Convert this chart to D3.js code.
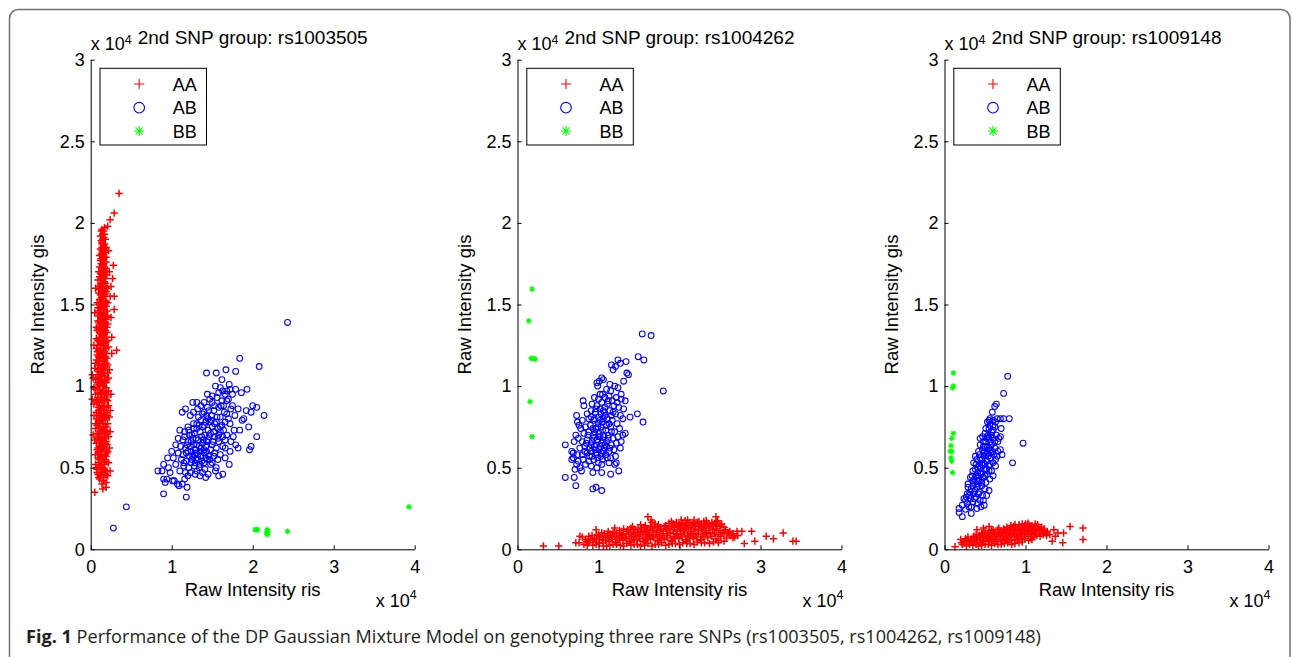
<!DOCTYPE html>
<html>
<head>
<meta charset="utf-8">
<script src="https://cdn.jsdelivr.net/npm/d3@7"></script>
<style>
  body { margin: 0; background: #fff; }
  svg { display: block; }
</style>
</head>
<body>
<script>
// values are in units of 10^4 (x = ris, y = gis)
const snpIds = ['rs1003505', 'rs1004262', 'rs1009148'];
const genotypes = ['AA', 'AB', 'BB'];
const yTicks = [0, 0.5, 1, 1.5, 2, 2.5, 3];
const xTicks = [0, 1, 2, 3, 4];

// --- rs1003505 ---
const p1AA = [
  [0.05,0.35],[0.14,0.40],[0.19,0.38],[0.11,0.43],[0.16,0.44],[0.09,0.46],[0.13,0.47],[0.20,0.48],[0.07,0.50],[0.12,0.51],
  [0.17,0.52],[0.22,0.53],[0.10,0.55],[0.15,0.56],[0.19,0.57],[0.06,0.58],[0.13,0.60],[0.21,0.60],[0.09,0.62],[0.16,0.63],
  [0.11,0.65],[0.19,0.66],[0.05,0.67],[0.14,0.68],[0.22,0.69],[0.08,0.71],[0.17,0.72],[0.12,0.74],[0.20,0.75],[0.06,0.77],
  [0.15,0.77],[0.10,0.79],[0.18,0.80],[0.23,0.81],[0.13,0.83],[0.07,0.84],[0.16,0.85],[0.20,0.87],[0.11,0.88],[0.04,0.89],
  [0.14,0.90],[0.19,0.92],[0.09,0.93],[0.17,0.95],[0.12,0.96],[0.22,0.97],[0.06,0.98],[0.15,1.00],[0.10,1.01],[0.19,1.02],
  [0.13,1.04],[0.03,1.05],[0.17,1.06],[0.08,1.07],[0.21,1.08],[0.14,1.10],[0.11,1.11],[0.18,1.13],[0.06,1.14],[0.15,1.15],
  [0.20,1.17],[0.10,1.18],[0.13,1.20],[0.17,1.21],[0.07,1.23],[0.22,1.24],[0.12,1.25],[0.16,1.27],[0.09,1.28],[0.19,1.30],
  [0.14,1.31],[0.11,1.33],[0.18,1.34],[0.07,1.36],[0.15,1.37],[0.21,1.38],[0.12,1.40],[0.17,1.42],[0.09,1.43],[0.14,1.45],
  [0.20,1.46],[0.11,1.48],[0.16,1.49],[0.08,1.51],[0.19,1.52],[0.13,1.54],[0.17,1.56],[0.10,1.57],[0.15,1.59],[0.21,1.60],
  [0.12,1.62],[0.18,1.63],[0.09,1.65],[0.15,1.66],[0.20,1.68],[0.13,1.70],[0.17,1.71],[0.11,1.73],[0.16,1.75],[0.19,1.76],
  [0.13,1.78],[0.15,1.80],[0.18,1.82],[0.12,1.84],[0.16,1.86],[0.14,1.88],[0.18,1.90],[0.15,1.93],[0.13,1.95],[0.17,1.97],
  [0.12,0.45],[0.18,0.46],[0.08,0.49],[0.15,0.50],[0.11,0.53],[0.19,0.54],[0.14,0.57],[0.09,0.59],[0.17,0.61],[0.12,0.63],
  [0.20,0.64],[0.07,0.65],[0.15,0.67],[0.10,0.69],[0.18,0.70],[0.13,0.72],[0.06,0.74],[0.16,0.75],[0.21,0.77],[0.11,0.78],
  [0.14,0.81],[0.08,0.82],[0.19,0.84],[0.12,0.86],[0.17,0.88],[0.09,0.90],[0.21,0.91],[0.14,0.93],[0.06,0.95],[0.18,0.96],
  [0.11,0.98],[0.16,1.00],[0.08,1.02],[0.20,1.04],[0.12,1.06],[0.16,1.08],[0.09,1.10],[0.13,1.12],[0.19,1.14],[0.07,1.16],
  [0.16,1.18],[0.12,1.22],[0.19,1.23],[0.09,1.25],[0.15,1.26],[0.21,1.28],[0.11,1.30],[0.17,1.32],[0.08,1.34],[0.13,1.35],
  [0.20,1.36],[0.10,1.39],[0.15,1.41],[0.19,1.43],[0.12,1.44],[0.17,1.47],[0.09,1.48],[0.14,1.50],[0.21,1.51],[0.11,1.53],
  [0.16,1.55],[0.19,1.58],[0.13,1.60],[0.10,1.61],[0.17,1.64],[0.14,1.67],[0.12,1.69],[0.19,1.72],[0.15,1.74],[0.12,1.77],
  [0.17,1.79],[0.14,1.83],[0.19,1.85],[0.13,1.89],[0.16,1.91],[0.14,1.96],
  [0.16,0.42],[0.10,0.44],[0.21,0.45],[0.14,0.48],[0.06,0.52],[0.17,0.55],[0.12,0.58],[0.20,0.59],[0.08,0.61],[0.15,0.62],
  [0.18,0.65],[0.12,0.67],[0.09,0.68],[0.20,0.71],[0.14,0.73],[0.10,0.75],[0.18,0.77],[0.13,0.79],[0.07,0.80],[0.21,0.82],
  [0.16,0.83],[0.10,0.85],[0.14,0.87],[0.22,0.88],[0.07,0.91],[0.17,0.91],[0.12,0.92],[0.20,0.94],[0.09,0.96],[0.15,0.97],
  [0.04,0.99],[0.19,0.99],[0.12,1.02],[0.17,1.03],[0.06,1.04],[0.22,1.05],[0.14,1.07],[0.10,1.09],[0.18,1.10],[0.05,1.11],
  [0.15,1.12],[0.21,1.13],[0.11,1.15],[0.17,1.16],[0.08,1.19],[0.14,1.19],[0.19,1.20],[0.10,1.22],[0.16,1.23],[0.13,1.26],
  [0.19,1.27],[0.07,1.29],[0.15,1.29],[0.12,1.32],[0.20,1.33],[0.09,1.35],[0.16,1.35],[0.13,1.38],[0.18,1.39],[0.09,1.40],
  [0.14,1.42],[0.21,1.43],[0.11,1.45],[0.17,1.45],[0.13,1.47],[0.19,1.49],[0.10,1.50],[0.15,1.52],[0.12,1.56],[0.18,1.57],
  [0.14,1.58],[0.11,1.59],[0.19,1.61],[0.15,1.63],[0.12,1.65],[0.18,1.66],[0.14,1.69],[0.10,1.70],[0.17,1.73],[0.13,1.75],
  [0.15,1.77],[0.19,1.79],[0.11,1.80],[0.16,1.81],[0.14,1.85],[0.17,1.87],[0.15,1.90],[0.17,1.93],[0.12,1.92],
  [0.08,0.47],[0.17,0.49],[0.13,0.53],[0.09,0.56],[0.18,0.58],[0.11,0.60],[0.14,0.64],[0.17,0.68],[0.11,0.71],[0.19,0.73],
  [0.08,0.76],[0.15,0.79],[0.19,0.81],[0.11,0.82],[0.16,0.87],[0.10,0.87],[0.13,0.95],[0.19,0.97],[0.08,0.99],[0.14,1.03],
  [0.18,1.06],[0.10,1.05],[0.13,1.08],[0.16,1.11],[0.09,1.13],[0.18,1.18],[0.12,1.17],[0.15,1.21],[0.08,1.21],[0.17,1.25],
  [0.11,1.27],[0.14,1.33],[0.17,1.37],[0.11,1.36],[0.15,1.39],[0.19,1.41],[0.13,1.41],[0.16,1.44],[0.09,1.46],[0.18,1.51],
  [0.12,1.51],[0.15,1.54],[0.17,1.59],[0.13,1.63],[0.16,1.68],[0.11,1.67],[0.18,1.70],[0.14,1.72],[0.16,1.78],[0.13,1.81],
  [0.17,1.84],[0.14,1.87],[0.16,1.95],
  [0.24,0.72],[0.25,0.95],[0.23,1.10],[0.26,1.30],[0.25,1.42],[0.24,1.55],[0.23,1.70],[0.22,1.83],[0.03,0.70],[0.02,0.92],
  [0.04,1.25],[0.05,1.45],[0.06,1.60],
  [0.35,2.18],[0.29,2.06],[0.24,2.02],[0.21,1.98],[0.28,1.74],[0.27,1.66],[0.29,1.55],[0.29,1.47],[0.32,1.22],[0.25,1.61],
  [0.26,1.20],[0.24,0.85],[0.23,0.62],[0.04,0.82],[0.02,1.07],[0.24,0.48],[0.19,0.41],[0.15,0.37]
];
const p1AB = [
  [1.43,1.08],[1.67,1.10],[1.84,1.17],[2.08,1.12],[1.55,1.08],[1.79,1.09],[1.62,1.04],[1.71,1.01],[1.72,0.98],[1.79,0.98],
  [1.93,0.98],[1.54,1.00],[1.63,0.97],[1.68,0.97],[1.86,0.96],
  [1.26,0.90],[1.31,0.90],[1.50,0.94],[1.56,0.93],[1.47,0.92],[1.40,0.90],[1.36,0.88],[1.62,0.91],[1.70,0.92],[1.64,0.88],
  [1.75,0.88],[2.00,0.88],[2.05,0.87],[1.17,0.86],[1.32,0.86],[1.44,0.87],[1.52,0.85],[1.58,0.87],[1.82,0.86],[1.92,0.85],
  [1.98,0.84],[1.13,0.84],[1.27,0.84],[1.40,0.84],
  [1.23,0.82],[1.33,0.81],[1.49,0.82],[1.60,0.81],[1.68,0.83],[1.78,0.82],[1.36,0.79],[1.45,0.80],[1.55,0.78],[1.66,0.78],
  [1.87,0.79],[2.14,0.82],[1.27,0.77],[1.40,0.76],[1.50,0.75],[1.62,0.76],[1.72,0.77],[1.95,0.75],[1.20,0.75],[1.31,0.74],
  [1.45,0.73],[1.57,0.74],
  [1.10,0.73],[1.16,0.72],[1.22,0.70],[1.28,0.71],[1.35,0.72],[1.41,0.70],[1.48,0.71],[1.53,0.69],[1.60,0.72],[1.68,0.70],
  [1.77,0.73],[2.05,0.69],[1.08,0.68],[1.14,0.67],[1.20,0.66],[1.26,0.68],[1.33,0.67],[1.38,0.65],[1.45,0.67],[1.51,0.66],
  [1.58,0.66],[1.66,0.67],[1.73,0.66],[1.98,0.63],[1.05,0.64],[1.11,0.63],[1.17,0.62],[1.23,0.63],[1.29,0.61],[1.36,0.62],
  [1.42,0.63],[1.48,0.61],[1.55,0.62],[1.63,0.63],[1.79,0.64],[1.96,0.61],[1.00,0.60],[1.08,0.59],[1.14,0.58],[1.20,0.60],
  [1.26,0.57],[1.32,0.58],[1.40,0.59],[1.46,0.57],[1.53,0.59],[1.60,0.58],[1.72,0.60],[1.82,0.62],
  [0.95,0.56],[1.02,0.56],[1.12,0.55],[1.18,0.54],[1.24,0.53],[1.30,0.55],[1.37,0.54],[1.44,0.55],[1.50,0.53],[1.57,0.55],
  [1.66,0.56],[0.90,0.52],[0.96,0.50],[1.05,0.52],[1.15,0.51],[1.21,0.50],[1.28,0.51],[1.34,0.50],[1.41,0.49],[1.48,0.52],
  [1.55,0.50],[1.71,0.52],[0.83,0.48],[0.88,0.48],[0.98,0.47],[1.10,0.48],[1.17,0.47],[1.23,0.47],[1.31,0.48],[1.38,0.47],
  [1.45,0.46],[1.54,0.48],[1.58,0.45],[1.63,0.46],[1.20,0.45],[1.29,0.46],
  [0.94,0.43],[0.90,0.43],[0.92,0.41],[1.03,0.42],[1.07,0.40],[1.09,0.39],[1.13,0.40],[1.16,0.43],[1.19,0.38],[1.01,0.42],
  [1.18,0.32],[0.90,0.34],[0.44,0.26],[0.28,0.13],[2.43,1.39],[1.35,0.45],[1.42,0.44],
  [1.25,0.70],[1.30,0.68],[1.37,0.69],[1.43,0.66],[1.27,0.64],[1.34,0.63],[1.40,0.61],[1.24,0.60],[1.30,0.59],[1.36,0.57],
  [1.42,0.56],[1.29,0.53],[1.35,0.52],[1.22,0.57],[1.19,0.64],[1.16,0.69],[1.31,0.77],[1.38,0.75],[1.53,0.77],[1.58,0.70],
  [1.64,0.73],[1.47,0.78],[1.43,0.82],[1.53,0.88],[1.58,0.96],[1.60,0.99],
  [1.21,0.73],[1.27,0.74],[1.34,0.76],[1.42,0.78],[1.49,0.79],[1.56,0.81],[1.65,0.84],[1.73,0.86],[1.46,0.85],[1.61,0.88],
  [1.68,0.91],[1.38,0.83],[1.24,0.66],[1.31,0.64],[1.39,0.67],[1.46,0.69],[1.52,0.72],[1.60,0.75],[1.70,0.80],[1.28,0.58],
  [1.35,0.60],[1.43,0.60],[1.50,0.64],[1.57,0.68],[1.63,0.69],[1.18,0.59],[1.15,0.53],[1.25,0.55],[1.33,0.55],[1.40,0.53],
  [1.47,0.55],[1.52,0.57],[1.66,0.62],[1.76,0.69],[1.84,0.73],[1.89,0.80],[1.50,0.90],[1.44,0.95],[1.66,0.95],[1.75,0.95]
];
const p1BB = [
  [2.03,0.12],[2.05,0.12],[2.06,0.12],[2.17,0.10],[2.18,0.09],[2.18,0.12],[2.19,0.11],[2.43,0.11],[3.93,0.26]
];

// --- rs1004262 ---
const p2AA = [
  [0.82,0.03],[0.93,0.025],[1.01,0.035],[1.10,0.02],[1.18,0.03],[1.27,0.025],[1.35,0.035],[1.44,0.03],[1.52,0.02],[1.61,0.035],
  [1.70,0.03],[1.78,0.04],[1.87,0.03],[1.95,0.035],[2.04,0.04],[2.13,0.035],[2.22,0.045],[2.31,0.04],[2.42,0.045],[2.55,0.05],
  [0.86,0.05],[0.90,0.06],[0.97,0.045],[1.05,0.055],[1.13,0.05],[1.21,0.045],[1.30,0.055],[1.38,0.05],[1.47,0.055],[1.55,0.05],
  [1.64,0.06],[1.73,0.055],[1.81,0.06],[1.90,0.055],[1.99,0.065],[2.08,0.06],[2.17,0.065],[2.26,0.06],[2.35,0.07],[2.45,0.065],
  [2.58,0.07],[2.68,0.075],
  [0.80,0.075],[0.95,0.07],[1.02,0.075],[1.09,0.07],[1.16,0.075],[1.24,0.07],[1.33,0.075],[1.41,0.075],[1.50,0.08],[1.58,0.075],
  [1.67,0.08],[1.75,0.08],[1.84,0.085],[1.93,0.08],[2.01,0.09],[2.10,0.085],[2.19,0.09],[2.28,0.09],[2.38,0.095],[2.48,0.09],
  [2.60,0.095],[2.72,0.085],
  [1.00,0.09],[1.07,0.095],[1.15,0.09],[1.22,0.10],[1.31,0.095],[1.39,0.10],[1.48,0.10],[1.56,0.105],[1.63,0.10],[1.72,0.105],
  [1.80,0.11],[1.88,0.105],[1.97,0.11],[2.05,0.115],[2.14,0.11],[2.23,0.115],[2.32,0.115],[2.41,0.12],[2.50,0.115],[2.62,0.11],
  [1.12,0.11],[1.26,0.115],[1.36,0.12],[1.45,0.12],[1.53,0.125],[1.60,0.12],[1.69,0.13],[1.77,0.125],[1.86,0.13],[1.94,0.135],
  [2.03,0.13],[2.11,0.135],[2.20,0.14],[2.29,0.135],[2.37,0.14],[2.46,0.14],[2.55,0.135],
  [1.42,0.14],[1.58,0.145],[1.74,0.15],[1.83,0.145],[1.92,0.155],[2.00,0.15],[2.09,0.155],[2.18,0.16],[2.27,0.155],[2.35,0.16],
  [2.44,0.16],[2.52,0.155],[1.66,0.165],[1.90,0.17],[2.07,0.175],[2.24,0.17],[2.33,0.175],[2.47,0.175],
  [0.88,0.04],[1.06,0.04],[1.23,0.04],[1.40,0.045],[1.57,0.045],[1.74,0.045],[1.91,0.05],[2.09,0.05],[2.27,0.055],[2.48,0.055],
  [0.92,0.085],[1.11,0.085],[1.28,0.085],[1.45,0.09],[1.62,0.09],[1.79,0.095],[1.96,0.095],[2.15,0.10],[2.33,0.10],[2.55,0.10],
  [1.20,0.13],[1.40,0.13],[1.64,0.14],[1.81,0.14],[1.98,0.145],[2.15,0.145],[2.31,0.15],
  [0.86,0.025],[0.97,0.03],[1.06,0.02],[1.14,0.025],[1.22,0.03],[1.31,0.02],[1.40,0.025],[1.48,0.03],[1.57,0.025],[1.66,0.02],
  [1.74,0.03],[1.83,0.025],[1.91,0.035],[2.00,0.03],[2.09,0.035],[2.18,0.03],[2.27,0.04],[2.37,0.035],[2.48,0.04],
  [0.84,0.06],[0.93,0.055],[1.01,0.06],[1.09,0.055],[1.17,0.06],[1.26,0.06],[1.34,0.065],[1.43,0.06],[1.51,0.065],[1.60,0.065],
  [1.68,0.07],[1.77,0.065],[1.85,0.07],[1.94,0.07],[2.03,0.075],[2.12,0.075],[2.21,0.075],[2.30,0.08],[2.40,0.08],[2.51,0.08],
  [2.63,0.085],
  [0.88,0.08],[0.98,0.085],[1.05,0.08],[1.13,0.085],[1.20,0.08],[1.29,0.085],[1.37,0.09],[1.45,0.08],[1.54,0.09],[1.62,0.085],
  [1.71,0.09],[1.79,0.085],[1.88,0.095],[1.97,0.09],[2.06,0.10],[2.14,0.095],[2.23,0.10],[2.33,0.105],[2.43,0.10],[2.53,0.105],
  [2.66,0.095],
  [1.04,0.10],[1.18,0.105],[1.26,0.10],[1.35,0.11],[1.43,0.105],[1.52,0.11],[1.59,0.11],[1.67,0.115],[1.76,0.115],[1.84,0.12],
  [1.92,0.12],[2.01,0.12],[2.09,0.125],[2.18,0.125],[2.27,0.125],[2.36,0.13],[2.45,0.125],[2.57,0.12],
  [1.31,0.125],[1.49,0.13],[1.57,0.135],[1.65,0.13],[1.73,0.14],[1.90,0.14],[1.99,0.14],[2.07,0.145],[2.16,0.15],[2.25,0.145],
  [2.33,0.15],[2.42,0.15],[2.50,0.145],
  [1.52,0.15],[1.70,0.155],[1.87,0.16],[1.96,0.165],[2.04,0.16],[2.13,0.165],[2.22,0.165],[2.30,0.17],[2.40,0.165],
  [0.32,0.02],[0.51,0.02],[0.72,0.04],[0.76,0.04],[0.77,0.08],[2.80,0.035],[2.93,0.05],[3.07,0.08],[3.16,0.065],[3.28,0.10],
  [3.40,0.05],[3.44,0.05],[2.71,0.11],[2.77,0.11],[2.89,0.11],[2.45,0.20],[2.46,0.17],[1.61,0.20],[1.65,0.18],[2.02,0.18],
  [2.10,0.18],[2.18,0.18],[0.97,0.12],[2.62,0.10],[2.66,0.07]
];
const p2AB = [
  [1.54,1.32],[1.65,1.31],[1.49,1.18],[1.56,1.16],[1.80,0.97],[1.16,1.13],[1.24,1.16],[1.34,1.15],[1.21,1.12],[1.27,1.14],
  [1.18,1.10],[1.35,1.08],[1.37,1.07],[1.31,1.03],[1.04,1.05],[1.06,1.04],[0.98,1.02],[1.01,1.03],[0.99,1.00],[1.14,1.01],
  [1.20,1.00],[1.24,0.99],[1.10,0.98],[1.28,0.95],[1.05,0.95],
  [0.81,0.91],[0.82,0.88],[0.95,0.93],[1.00,0.92],[1.08,0.93],[1.13,0.94],[1.17,0.91],[1.22,0.93],[1.28,0.92],[1.33,0.91],
  [0.92,0.89],[0.98,0.88],[1.04,0.90],[1.11,0.89],[1.19,0.88],[1.25,0.87],[1.31,0.86],[1.39,0.81],[1.48,0.83],[1.55,0.78],
  [0.73,0.82],[0.74,0.78],[0.76,0.76],[0.86,0.83],[0.91,0.85],[0.96,0.84],[1.02,0.86],[1.07,0.84],[1.14,0.85],[1.21,0.83],
  [1.27,0.82],[0.80,0.79],[0.88,0.80],[0.94,0.79],[1.00,0.81],[1.05,0.78],[1.11,0.80],[1.17,0.79],[1.23,0.77],[1.30,0.80],
  [0.78,0.74],[0.84,0.75],[0.90,0.76],[0.97,0.74],[1.03,0.75],[1.09,0.73],[1.15,0.75],[1.20,0.72],[1.26,0.74],[1.33,0.71],
  [0.72,0.70],[0.82,0.71],[0.88,0.72],[0.94,0.70],[1.01,0.71],[1.07,0.69],[1.12,0.70],[1.18,0.68],[1.24,0.69],[1.30,0.70],
  [0.59,0.64],[0.70,0.66],[0.75,0.68],[0.80,0.66],[0.86,0.67],[0.92,0.66],[0.98,0.67],[1.04,0.65],[1.10,0.66],[1.16,0.64],
  [1.22,0.65],[1.28,0.66],[0.67,0.60],[0.69,0.59],[0.77,0.62],[0.83,0.63],[0.89,0.62],[0.95,0.63],[1.01,0.61],[1.07,0.62],
  [1.13,0.60],[1.19,0.61],[1.27,0.62],[0.74,0.58],[0.80,0.58],[0.86,0.59],[0.92,0.57],[0.97,0.59],[1.03,0.57],[1.09,0.58],
  [1.15,0.56],[1.21,0.57],[0.69,0.56],[0.75,0.54],[0.81,0.55],[0.88,0.54],[0.94,0.55],[1.00,0.53],[1.05,0.55],
  [0.67,0.55],[0.73,0.52],[0.77,0.50],[0.84,0.52],[0.91,0.51],[0.98,0.50],[1.04,0.52],[1.13,0.53],[1.20,0.52],[1.22,0.53],
  [0.71,0.49],[0.79,0.48],[0.93,0.47],[1.04,0.47],[1.15,0.46],[1.25,0.48],[0.59,0.44],[0.70,0.44],[0.72,0.39],[0.93,0.37],
  [0.97,0.38],[1.04,0.36],
  [0.95,0.72],[1.00,0.77],[1.06,0.80],[1.02,0.69],[0.97,0.64],[1.06,0.60],[0.99,0.56],[1.10,0.63],[1.13,0.77],[0.91,0.81],
  [1.08,0.87],[1.03,0.83],[0.96,0.61],[0.91,0.60],[1.16,0.82],
  [0.93,0.74],[0.99,0.75],[1.05,0.73],[1.10,0.76],[1.16,0.72],[0.94,0.68],[1.00,0.69],[1.05,0.67],[1.12,0.68],[0.91,0.64],
  [1.02,0.63],[1.08,0.64],[1.14,0.62],[0.98,0.58],[1.04,0.59],[1.11,0.56],[0.95,0.80],[1.02,0.79],[1.08,0.82],[1.18,0.84],
  [0.97,0.86],[1.06,0.85],[1.12,0.91],[1.02,0.95],[1.15,0.97],[0.87,0.70],[0.85,0.65],[0.89,0.57],[0.83,0.60],[1.23,0.90]
];
const p2BB = [
  [0.18,1.595],[0.14,1.40],[0.17,1.17],[0.19,1.17],[0.22,1.165],[0.155,0.905],[0.18,0.69]
];

// --- rs1009148 ---
const p3AA = [
  [0.27,0.02],[0.35,0.025],[0.42,0.02],[0.50,0.03],[0.58,0.025],[0.66,0.03],[0.74,0.035],[0.83,0.03],[0.92,0.04],
  [0.24,0.045],[0.30,0.04],[0.37,0.045],[0.44,0.04],[0.51,0.05],[0.58,0.045],[0.65,0.05],[0.72,0.055],[0.79,0.05],[0.87,0.055],
  [0.95,0.06],[1.04,0.055],
  [0.26,0.065],[0.33,0.06],[0.40,0.065],[0.47,0.07],[0.54,0.065],[0.61,0.07],[0.68,0.075],[0.75,0.07],[0.82,0.075],[0.89,0.08],
  [0.96,0.075],[1.03,0.08],[1.10,0.075],[1.18,0.08],[1.26,0.085],
  [0.36,0.08],[0.43,0.085],[0.50,0.085],[0.57,0.09],[0.64,0.09],[0.71,0.095],[0.78,0.09],[0.85,0.10],[0.92,0.095],[0.99,0.10],
  [1.06,0.10],[1.13,0.095],[1.21,0.10],[1.30,0.09],
  [0.46,0.10],[0.54,0.105],[0.62,0.105],[0.70,0.11],[0.77,0.115],[0.84,0.115],[0.91,0.12],[0.98,0.115],[1.05,0.12],[1.12,0.115],
  [1.19,0.12],[1.27,0.11],
  [0.60,0.12],[0.73,0.125],[0.81,0.13],[0.88,0.135],[0.95,0.13],[1.02,0.135],[1.09,0.13],[1.16,0.135],[1.23,0.125],
  [0.82,0.145],[0.92,0.15],[1.00,0.155],[1.08,0.145],[1.15,0.15],
  [0.32,0.05],[0.47,0.055],[0.62,0.06],[0.76,0.06],[0.90,0.065],[1.07,0.065],[0.40,0.075],[0.55,0.08],[0.69,0.085],[0.82,0.085],
  [0.96,0.09],[1.10,0.09],[0.66,0.10],[0.80,0.105],[0.95,0.105],[1.09,0.11],[1.22,0.11],[0.87,0.12],[1.02,0.125],
  [0.31,0.03],[0.39,0.03],[0.46,0.025],[0.54,0.03],[0.62,0.035],[0.70,0.03],[0.78,0.04],[0.87,0.035],[0.96,0.045],
  [0.27,0.055],[0.34,0.05],[0.41,0.055],[0.48,0.05],[0.55,0.055],[0.62,0.05],[0.69,0.06],[0.76,0.055],[0.83,0.06],[0.91,0.06],
  [0.99,0.065],[1.08,0.06],
  [0.29,0.075],[0.37,0.07],[0.44,0.075],[0.51,0.075],[0.58,0.08],[0.65,0.08],[0.72,0.08],[0.79,0.085],[0.86,0.09],[0.93,0.085],
  [1.00,0.09],[1.07,0.09],[1.14,0.085],[1.22,0.09],
  [0.39,0.09],[0.47,0.095],[0.54,0.095],[0.61,0.10],[0.68,0.10],[0.75,0.105],[0.82,0.10],[0.89,0.11],[0.96,0.11],[1.03,0.11],
  [1.10,0.105],[1.17,0.11],[1.25,0.10],
  [0.50,0.115],[0.58,0.115],[0.66,0.12],[0.74,0.12],[0.81,0.125],[0.88,0.125],[0.95,0.12],[1.02,0.13],[1.09,0.125],[1.16,0.125],
  [1.23,0.115],
  [0.67,0.13],[0.77,0.135],[0.85,0.14],[0.92,0.14],[0.99,0.145],[1.06,0.14],[1.13,0.14],[1.20,0.135],
  [0.87,0.15],[0.96,0.155],[1.04,0.15],[1.12,0.155],
  [0.13,0.016],[0.21,0.04],[0.22,0.03],[1.55,0.14],[1.71,0.13],[1.71,0.06],[1.46,0.04],[1.47,0.10],[1.35,0.12],[1.37,0.08],
  [1.40,0.10],[1.33,0.05],[0.40,0.12],[0.48,0.13],[0.55,0.14],[1.03,0.16],[0.20,0.06]
];
const p3AB = [
  [0.78,1.06],[0.73,0.955],[0.64,0.89],[0.62,0.875],[0.59,0.84],[0.73,0.80],[0.80,0.80],[0.97,0.65],[0.84,0.53],[0.69,0.80],
  [0.65,0.80],[0.60,0.79],[0.55,0.79],[0.53,0.78],[0.56,0.76],[0.62,0.75],[0.58,0.72],[0.51,0.74],[0.54,0.70],[0.64,0.70],
  [0.60,0.68],[0.52,0.68],[0.57,0.66],[0.48,0.66],[0.44,0.64],[0.50,0.63],[0.55,0.62],[0.62,0.62],[0.66,0.60],[0.59,0.60],
  [0.47,0.61],[0.42,0.60],[0.53,0.59],[0.65,0.57],[0.63,0.55],[0.57,0.56],[0.49,0.57],[0.44,0.56],[0.40,0.55],[0.52,0.54],
  [0.60,0.53],[0.36,0.53],[0.46,0.52],[0.55,0.51],[0.41,0.50],[0.50,0.49],[0.58,0.48],[0.35,0.48],[0.44,0.47],[0.53,0.46],
  [0.39,0.45],[0.48,0.44],[0.56,0.43],[0.32,0.44],[0.43,0.42],[0.51,0.41],[0.36,0.41],[0.29,0.40],[0.46,0.39],[0.40,0.38],
  [0.33,0.37],[0.50,0.37],[0.43,0.35],[0.36,0.34],[0.28,0.34],[0.47,0.33],[0.39,0.32],[0.32,0.31],[0.24,0.31],[0.44,0.30],
  [0.35,0.29],[0.28,0.28],[0.41,0.28],[0.49,0.27],[0.22,0.27],[0.33,0.26],[0.40,0.25],[0.18,0.25],[0.26,0.245],[0.18,0.225],
  [0.22,0.20],[0.33,0.22],[0.45,0.26],[0.48,0.30],[0.52,0.33],[0.55,0.36],[0.37,0.43],[0.41,0.47],[0.46,0.55],[0.50,0.52],
  [0.45,0.50],[0.39,0.52],[0.54,0.57],[0.49,0.59],[0.43,0.58],[0.38,0.49],[0.31,0.35],[0.37,0.31],[0.42,0.40],[0.47,0.44],
  [0.52,0.49],[0.56,0.52],[0.61,0.58],[0.58,0.64],[0.51,0.66],[0.55,0.68],[0.60,0.73],[0.47,0.69],[0.66,0.66],[0.69,0.61],
  [0.71,0.58],[0.63,0.51],[0.60,0.45],[0.67,0.68],[0.70,0.74],[0.42,0.34],[0.30,0.26],[0.26,0.30],[0.35,0.39],[0.53,0.63],
  [0.57,0.59],[0.48,0.63],[0.44,0.68],[0.50,0.71],[0.55,0.74],[0.60,0.76],[0.69,0.69],[0.38,0.57],[0.34,0.45],[0.29,0.38],
  [0.42,0.45],
  [0.45,0.46],[0.50,0.45],[0.55,0.48],[0.40,0.42],[0.46,0.41],[0.52,0.58],[0.57,0.61],[0.62,0.66],[0.48,0.53],[0.43,0.51],
  [0.35,0.42],[0.31,0.33],[0.27,0.32],[0.38,0.36],[0.53,0.69],[0.58,0.70],[0.63,0.78],[0.56,0.80]
];
const p3BB = [
  [0.11,1.08],[0.11,1.00],[0.10,0.99],[0.11,0.71],[0.09,0.68],[0.08,0.635],[0.07,0.60],[0.09,0.60],[0.08,0.56],[0.09,0.54],
  [0.10,0.47]
];

const W = 1292, H = 657;
const AX_LEFT = [90.7, 517.5, 944.5];
const AX_W = 324;
const AX_TOP = 59.7, AX_BOTTOM = 549.3;
const FONT = '"Liberation Sans", Arial, Helvetica, sans-serif';
const COLORS = { AA: '#ff0000', AB: '#0000ff', BB: '#00ff00' };

const plusPath = (cx, cy, r) => `M${cx - r},${cy}H${cx + r}M${cx},${cy - r}V${cy + r}`;
const starPath = (cx, cy, r) => {
  const d = r * 0.72;
  return plusPath(cx, cy, r) + `M${cx - d},${cy - d}L${cx + d},${cy + d}M${cx - d},${cy + d}L${cx + d},${cy - d}`;
};

const panels = [
  { snp: snpIds[0], AA: p1AA, AB: p1AB, BB: p1BB },
  { snp: snpIds[1], AA: p2AA, AB: p2AB, BB: p2BB },
  { snp: snpIds[2], AA: p3AA, AB: p3AB, BB: p3BB },
];

const svg = d3.select('body').append('svg').attr('width', W).attr('height', H);

// rounded frame of the figure box
svg.append('rect')
  .attr('x', 9.5).attr('y', 9.5)
  .attr('width', 1280.5).attr('height', 720)
  .attr('rx', 9)
  .attr('fill', 'none')
  .attr('stroke', '#707070')
  .attr('stroke-width', 1.5);

panels.forEach((p, i) => {
  const left = AX_LEFT[i];
  const x = d3.scaleLinear().domain([0, 4]).range([left, left + AX_W]);
  const y = d3.scaleLinear().domain([0, 3]).range([AX_BOTTOM, AX_TOP]);
  const g = svg.append('g');

  g.append('g').selectAll('path').data(p.AA).join('path')
    .attr('d', (d) => plusPath(x(d[0]), y(d[1]), 3.7))
    .attr('fill', 'none')
    .attr('stroke', COLORS.AA)
    .attr('stroke-width', 1.5);

  g.append('g').selectAll('circle').data(p.AB).join('circle')
    .attr('cx', (d) => x(d[0]))
    .attr('cy', (d) => y(d[1]))
    .attr('r', 2.9)
    .attr('fill', 'none')
    .attr('stroke', COLORS.AB)
    .attr('stroke-width', 1.05);

  g.append('g').selectAll('path').data(p.BB).join('path')
    .attr('d', (d) => starPath(x(d[0]), y(d[1]), 2.8))
    .attr('fill', 'none')
    .attr('stroke', COLORS.BB)
    .attr('stroke-width', 1.2);

  // axes, ticks pointing inward like matlab
  g.append('g')
    .attr('transform', `translate(${left},0)`)
    .call(d3.axisLeft(y).tickValues(yTicks).tickSizeInner(-4).tickSizeOuter(0).tickPadding(6).tickFormat(d3.format('~g')))
    .attr('font-family', FONT).attr('font-size', 18).attr('color', '#000');

  g.append('g')
    .attr('transform', `translate(0,${AX_BOTTOM})`)
    .call(d3.axisBottom(x).tickValues(xTicks).tickSizeInner(-4).tickSizeOuter(0).tickPadding(10.5).tickFormat(d3.format('~g')))
    .attr('font-family', FONT).attr('font-size', 18).attr('color', '#000');

  // y exponent + title
  const yExp = g.append('text')
    .attr('x', left).attr('y', 50)
    .attr('font-family', FONT).attr('font-size', 18);
  yExp.append('tspan').text('x 10');
  yExp.append('tspan').attr('font-size', 12.5).attr('dy', -6.5).text('4');

  g.append('text')
    .attr('x', left + AX_W / 2).attr('y', 44)
    .attr('text-anchor', 'middle')
    .attr('font-family', FONT).attr('font-size', 19)
    .text(`2nd SNP group: ${p.snp}`);

  // axis labels
  g.append('text')
    .attr('x', left + AX_W / 2).attr('y', 595.5)
    .attr('text-anchor', 'middle')
    .attr('font-family', FONT).attr('font-size', 18.5)
    .text('Raw Intensity ris');

  g.append('text')
    .attr('transform', `translate(${left - 47},${(AX_TOP + AX_BOTTOM) / 2}) rotate(-90)`)
    .attr('text-anchor', 'middle')
    .attr('font-family', FONT).attr('font-size', 18.5)
    .text('Raw Intensity gis');

  const xExp = g.append('text')
    .attr('x', left + AX_W + 2).attr('y', 606.5)
    .attr('text-anchor', 'end')
    .attr('font-family', FONT).attr('font-size', 18);
  xExp.append('tspan').text('x 10');
  xExp.append('tspan').attr('font-size', 12.5).attr('dy', -8).text('4');

  // legend
  const lg = g.append('g');
  lg.append('rect')
    .attr('x', left + 9.3).attr('y', 68.3)
    .attr('width', 106.5).attr('height', 76.7)
    .attr('fill', '#fff').attr('stroke', '#000').attr('stroke-width', 1);

  const rowY = [84, 107.7, 131];
  genotypes.forEach((gt, k) => {
    const mx = left + 48.5, my = rowY[k];
    if (gt === 'AA') {
      lg.append('path').attr('d', plusPath(mx, my, 5)).attr('stroke', COLORS.AA).attr('stroke-width', 1.1);
    } else if (gt === 'AB') {
      lg.append('circle').attr('cx', mx).attr('cy', my).attr('r', 5.3)
        .attr('fill', 'none').attr('stroke', COLORS.AB).attr('stroke-width', 1.1);
    } else {
      lg.append('path').attr('d', starPath(mx, my, 5)).attr('fill', 'none').attr('stroke', COLORS.BB).attr('stroke-width', 1.1);
    }
    lg.append('text')
      .attr('x', left + 82).attr('y', my + 6.5)
      .attr('font-family', FONT).attr('font-size', 18)
      .text(gt);
  });
});

// caption
const cap = svg.append('text')
  .attr('x', 26).attr('y', 642.5)
  .attr('font-family', '"Open Sans", "Noto Sans", sans-serif')
  .attr('font-size', 18.1)
  .attr('fill', '#231f20');
cap.append('tspan').attr('font-weight', 'bold').text('Fig. 1');
cap.append('tspan').text(' Performance of the DP Gaussian Mixture Model on genotyping three rare SNPs (rs1003505, rs1004262, rs1009148)');
</script>
</body>
</html>
